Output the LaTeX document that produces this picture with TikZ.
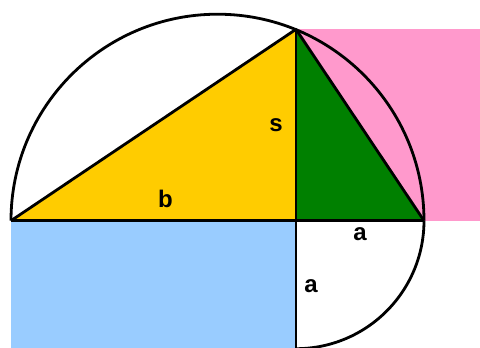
\documentclass[tikz,border=0pt]{standalone}
\usepackage{fontspec}
\setmainfont{Liberation Sans}
\definecolor{cyellow}{HTML}{FFCC00}
\definecolor{cgreen}{HTML}{008000}
\definecolor{cpink}{HTML}{FF99CC}
\definecolor{cblue}{HTML}{99CCFF}
\begin{document}
\begin{tikzpicture}[x=1pt,y=1pt,
  edge/.style={draw=black,line width=2.8pt,line join=round},
  lbl/.style={inner sep=0pt,font=\fontsize{24}{24}\selectfont\bfseries}]
\useasboundingbox (0,0) rectangle (480,348);
\coordinate (L) at (11,127.3);
\coordinate (R) at (424,127.3);
\coordinate (T) at (296,318.7);
\coordinate (F) at (296,127.3);
\coordinate (B) at (296,0);
\fill[cpink] (T) rectangle (480,127.3);
\fill[cblue] (L) rectangle (B);
\fill[cyellow] (L) -- (T) -- (F) -- cycle;
\fill[cgreen] (F) -- (T) -- (R) -- cycle;
\draw[edge] (L) -- (T) -- (R);
\draw[edge] (L) -- (R);
\draw[edge] (T) -- (B);
\draw[edge] (L) arc[start angle=180,end angle=0,radius=206.5];
\draw[edge] (R) arc[start angle=0,end angle=-90,radius=128];
\node[lbl] (s) at (276,223) {s};
\node[lbl] (b) at (165.5,149) {b};
\node[lbl] (a1) at (360,114) {a};
\node[lbl] (a2) at (311,62.3) {a};
\end{tikzpicture}
\end{document}
